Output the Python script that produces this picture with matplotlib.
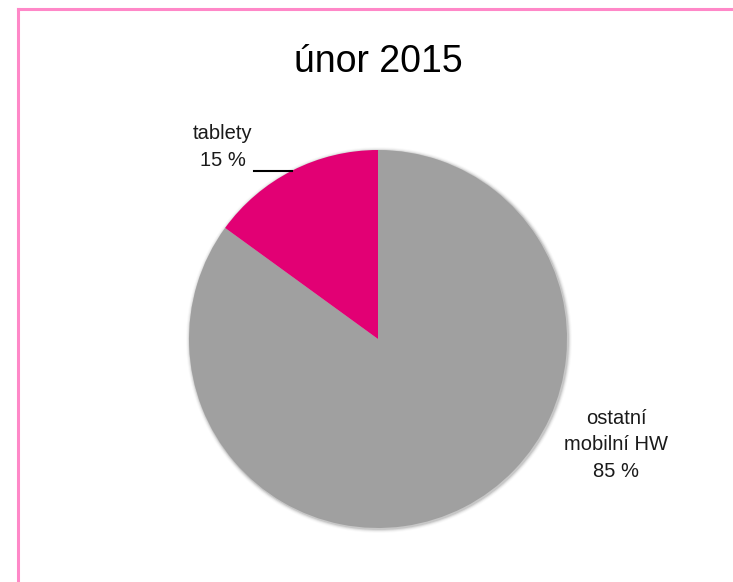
import matplotlib
matplotlib.use('Agg')
import matplotlib.pyplot as plt
import numpy as np
from matplotlib.lines import Line2D
from matplotlib.patches import Circle

# data
labels = ['ostatní\nmobilní HW', 'tablety']
values = [85, 15]
colors = ['#A0A0A0', '#E20074']
title = 'únor 2015'

plt.rcParams['font.family'] = ['Liberation Sans', 'DejaVu Sans']

W, H = 733, 582
fig = plt.figure(figsize=(W / 100, H / 100), dpi=100)
ax = fig.add_axes([0, 0, 1, 1])

cx, cy, r = 378, H - 339, 189

# soft shadow round the pie
for i, a in enumerate([0.10, 0.07, 0.04, 0.02]):
    ax.add_patch(Circle((cx + 1, cy - 1), r + 1 + i, color='k', alpha=a, lw=0, zorder=0))

wedges, _ = ax.pie(values, colors=colors, startangle=90, counterclock=False,
                   center=(cx, cy), radius=r, wedgeprops=dict(linewidth=0))
ax.set_xlim(0, W)
ax.set_ylim(0, H)
ax.set_aspect('equal')
ax.axis('off')

# title
ax.text(378, H - 62, title, ha='center', va='center', fontsize=27)

# labels
ax.text(616, H - 445, '%s\n%d %%' % (labels[0], values[0]), ha='center', va='center',
        fontsize=14.5, linespacing=1.5, color='#1a1a1a')
ax.text(223, H - 147, '%s\n%d %%' % (labels[1], values[1]), ha='center', va='center',
        fontsize=14.5, linespacing=1.5, color='#1a1a1a')

# leader line to the middle of the tablety wedge
w = wedges[1]
mid = np.deg2rad((w.theta1 + w.theta2) / 2)
ex, ey = cx + r * np.cos(mid), cy + r * np.sin(mid)
ax.plot([254, ex], [ey, ey], color='k', lw=1.5)

# pink frame (left and top edges)
fig.add_artist(Line2D([18 / W, 18 / W], [0, 1 - 9 / H], color='#FF88C8', lw=2.2))
fig.add_artist(Line2D([18 / W, 1], [1 - 9 / H, 1 - 9 / H], color='#FF88C8', lw=2.2))

fig.savefig('out.png', dpi=100)
